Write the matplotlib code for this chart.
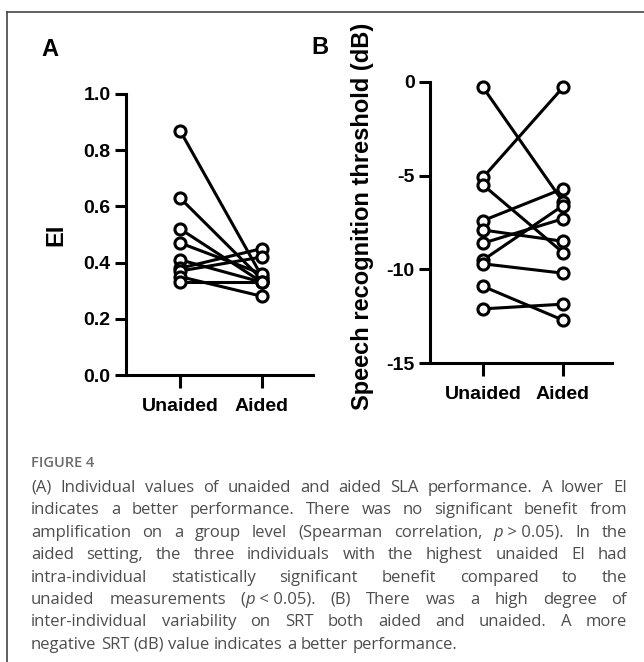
import matplotlib
matplotlib.use('Agg')
import matplotlib.pyplot as plt
from matplotlib.lines import Line2D

# panel A: EI per listener
ei_unaided = [0.87, 0.63, 0.52, 0.47, 0.41, 0.38, 0.37, 0.35, 0.33]
ei_aided = [0.35, 0.34, 0.33, 0.36, 0.33, 0.45, 0.42, 0.28, 0.33]

# panel B: SRT (dB) per listener
srt_unaided = [-0.3, -5.1, -5.5, -7.4, -7.9, -8.6, -9.5, -9.7, -10.9, -12.1]
srt_aided = [-6.4, -0.3, -9.1, -5.7, -8.5, -7.3, -6.6, -10.2, -12.7, -11.85]

conditions = ['Unaided', 'Aided']

caption_title = 'FIGURE 4'
caption_lines = [
    [['(A)'], ['Individual'], ['values'], ['of'], ['unaided'], ['and'], ['aided'], ['SLA'],
     ['performance.'], ['A'], ['lower'], ['EI']],
    [['indicates'], ['a'], ['better'], ['performance.'], ['There'], ['was'], ['no'],
     ['significant'], ['benefit'], ['from']],
    [['amplification'], ['on'], ['a'], ['group'], ['level'], ['(Spearman'], ['correlation,'],
     ['*p', ' > 0.05).'], ['In'], ['the']],
    [['aided'], ['setting,'], ['the'], ['three'], ['individuals'], ['with'], ['the'],
     ['highest'], ['unaided'], ['EI'], ['had']],
    [['intra-individual'], ['statistically'], ['significant'], ['benefit'], ['compared'],
     ['to'], ['the']],
    [['unaided'], ['measurements'], ['(', '*p', ' < 0.05).'], ['(B)'], ['There'], ['was'],
     ['a'], ['high'], ['degree'], ['of']],
    [['inter-individual'], ['variability'], ['on'], ['SRT'], ['both'], ['aided'], ['and'],
     ['unaided.'], ['A'], ['more']],
    [['negative'], ['SRT'], ['(dB)'], ['value'], ['indicates'], ['a'], ['better'],
     ['performance.']],
]

W, H = 644, 662
fig = plt.figure(figsize=(W / 100, H / 100), dpi=100)
plt.rcParams['font.family'] = ['Liberation Sans', 'DejaVu Sans']


def px_axes(left, top, right, bottom):
    return fig.add_axes([left / W, 1 - bottom / H, (right - left) / W, (bottom - top) / H])


def style_axes(ax):
    for s in ['top', 'right']:
        ax.spines[s].set_visible(False)
    for s in ['left', 'bottom']:
        ax.spines[s].set_linewidth(2.2)
    ax.tick_params(axis='y', width=2.2, length=8, pad=3, labelsize=14)
    ax.tick_params(axis='x', width=2.2, length=9, pad=7.5, labelsize=14)
    for lab in ax.get_xticklabels() + ax.get_yticklabels():
        lab.set_fontweight('bold')


def paired(ax, before, after):
    for b, a in zip(before, after):
        ax.plot([0, 1], [b, a], color='black', lw=2.2, marker='o', ms=8,
                mfc='white', mec='black', mew=2.2, clip_on=False, zorder=3)


# panel A
axA = px_axes(126, 94, 313, 375)
paired(axA, ei_unaided, ei_aided)
axA.set_xlim(-0.659, 1.622)
axA.set_ylim(0, 1.0)
axA.set_yticks([0.0, 0.2, 0.4, 0.6, 0.8, 1.0])
axA.set_yticklabels(['0.0', '0.2', '0.4', '0.6', '0.8', '1.0'])
axA.set_xticks([0, 1])
axA.set_xticklabels(conditions)
axA.set_ylabel('EI', fontsize=17, fontweight='bold')
axA.yaxis.set_label_coords(-0.316, 0.5)
style_axes(axA)

# panel B
axB = px_axes(430, 81.7, 612, 363.3)
paired(axB, srt_unaided, srt_aided)
axB.set_xlim(-0.6625, 1.6125)
axB.set_ylim(-15, 0)
axB.set_yticks([-15, -10, -5, 0])
axB.set_yticklabels(['-15', '-10', '-5', '0'])
axB.set_xticks([0, 1])
axB.set_xticklabels(conditions)
axB.set_ylabel('Speech recognition threshold (dB)', fontsize=17, fontweight='bold')
axB.yaxis.set_label_coords(-0.31, 0.52)
style_axes(axB)

fig.text(50 / W, 1 - 49 / H, 'A', fontsize=17, fontweight='bold', ha='center', va='center')
fig.text(320 / W, 1 - 48 / H, 'B', fontsize=17, fontweight='bold', ha='center', va='center')

# frame lines
fig.add_artist(Line2D([7 / W, 7 / W], [0, 1 - 12 / H], color='#444444', lw=1.2))
fig.add_artist(Line2D([7 / W, 1], [1 - 12 / H, 1 - 12 / H], color='#444444', lw=1.2))

# caption
cap_font = ['Open Sans', 'DejaVu Sans']
cap_color = '#4d4d4d'
cap_size = 12
fig.text(31 / W, 1 - 463 / H, caption_title, fontsize=10.5, fontweight='semibold',
         color='#6b6b6b', family=cap_font, va='center')

renderer = fig.canvas.get_renderer()


def seg_width(txt, italic):
    t = fig.text(0, 0, txt, fontsize=cap_size, family=cap_font,
                 style='italic' if italic else 'normal')
    w = t.get_window_extent(renderer).width
    t.remove()
    return w


space_w = seg_width('a a', False) - seg_width('aa', False)
x_left, x_right = 31, 627
y0, dy = 488, 22.4
for i, line in enumerate(caption_lines):
    words = []
    for word in line:
        segs = [(s[1:], True) if s.startswith('*') else (s, False) for s in word]
        widths = [seg_width(s, it) for s, it in segs]
        words.append((segs, widths))
    total = sum(sum(w) for _, w in words)
    last = i == len(caption_lines) - 1
    gap = space_w if last else (x_right - x_left - total) / (len(words) - 1)
    x = x_left
    y = 1 - (y0 + i * dy) / H
    for segs, widths in words:
        for (s, it), w in zip(segs, widths):
            fig.text(x / W, y, s, fontsize=cap_size, family=cap_font, color=cap_color,
                     style='italic' if it else 'normal', va='center')
            x += w
        x += gap

fig.savefig('out.png', dpi=100)
